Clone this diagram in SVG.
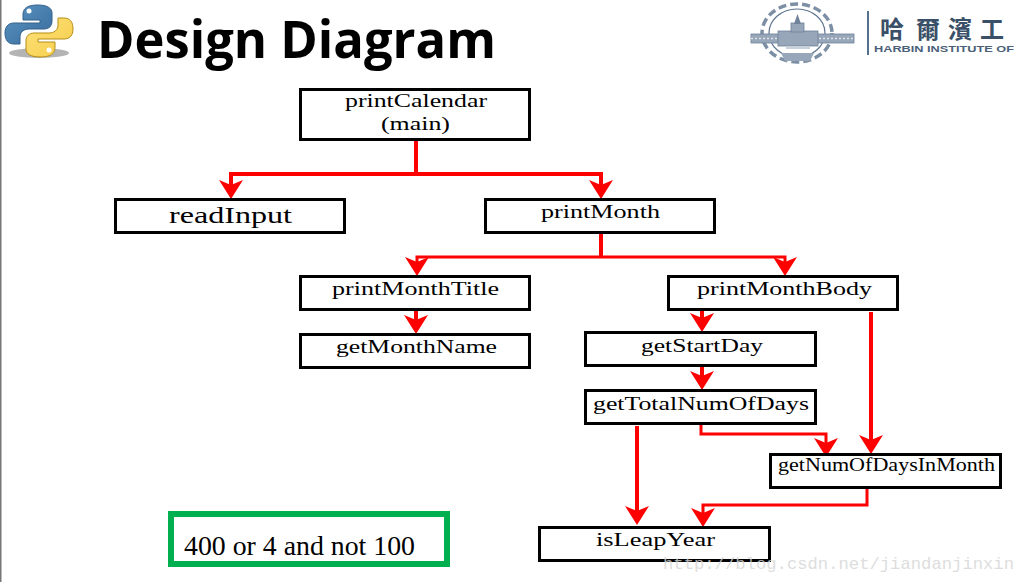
<svg xmlns="http://www.w3.org/2000/svg" width="1014" height="582" viewBox="0 0 1014 582">
<style>
.box{fill:#fff;stroke:#000;stroke-width:3}
.lbl{font-family:"Liberation Serif",serif;font-size:19px;fill:#000;text-anchor:start}
.c4{fill:none;stroke:#f00;stroke-width:4;marker-end:url(#ah)}
.c3{fill:none;stroke:#f00;stroke-width:3;marker-end:url(#ah)}
.p4{fill:none;stroke:#f00;stroke-width:4}
.p3{fill:none;stroke:#f00;stroke-width:3}
.blogo{fill:#97a6b8;stroke:#6f8299;stroke-width:.8}
</style>
<defs>
<marker id="ah" markerUnits="userSpaceOnUse" markerWidth="24" markerHeight="26" viewBox="0 -13 20 26" refX="9" refY="0" orient="auto" overflow="visible">
<polygon points="0,-12 19,0 0,12 5,0" fill="#f00"/>
</marker>
<linearGradient id="pb" x1="0" y1="0" x2="1" y2="1"><stop offset="0" stop-color="#5a95c4"/><stop offset="1" stop-color="#376a9a"/></linearGradient>
<linearGradient id="py" x1="0" y1="0" x2="1" y2="1"><stop offset="0" stop-color="#fde27a"/><stop offset="1" stop-color="#f6cc4a"/></linearGradient>
</defs>
<rect width="1014" height="582" fill="#fff"/>
<rect x="0" y="0" width="1.5" height="582" fill="#777"/>

<g id="python-logo">
<ellipse cx="39" cy="53" rx="30" ry="5" fill="#b4b4b4"/>
<path d="M38,5C25,5 23,10 23,15V20H40V23H14C8,23 5,27 5,33C5,40 8,44 14,44H20V37C20,32 24,29 29,29H44C49,29 52,26 52,21V13C52,8 47,5 38,5Z" fill="url(#pb)" stroke="#34608a"/>
<path d="M40,57C53,57 55,52 55,47V42H38V39H64C70,39 73,35 73,29C73,22 70,18 64,18H58V25C58,30 54,33 49,33H34C29,33 26,36 26,41V49C26,54 31,57 40,57Z" fill="url(#py)" stroke="#b58d14"/>
<circle cx="29" cy="11" r="2.5" fill="#fff"/>
<circle cx="49" cy="50" r="2.5" fill="#fff"/>
</g>
<text id="title" x="97" y="58" font-family="'Open Sans','Noto Sans',sans-serif" font-weight="700" font-size="52" textLength="399" lengthAdjust="spacingAndGlyphs" fill="#000">Design Diagram</text>

<g id="hit-logo">
<ellipse cx="797" cy="33" rx="35" ry="29" fill="none" stroke="#7d8fa5" stroke-width="3.5" stroke-dasharray="8 4"/>
<ellipse cx="797" cy="33" rx="28" ry="24" fill="#fff" stroke="#5f7590" stroke-width="1.2"/>
<rect x="751" y="34" width="103" height="9" class="blogo"/>
<path d="M751,38.500H854" stroke="#dfe4ea" stroke-width="1.500" stroke-dasharray="2 2"/>
<rect x="778" y="31" width="40" height="15" class="blogo"/>
<rect x="791" y="23" width="13" height="9" class="blogo"/>
<path d="M797.500,14L801,24H794Z" fill="#6f8299"/>
<rect x="786" y="46" width="24" height="3" fill="#c9d1db"/>
<path d="M781,53H814L810,61H785Z" fill="#97a6b8"/>
<rect x="867" y="11" width="2" height="44" fill="#54708c"/>
<text font-family="'Noto Sans CJK TC','Noto Sans CJK SC',sans-serif" font-weight="700" font-size="24" x="880 916 948 980" y="38" fill="#3a5068">哈爾濱工</text>
<text x="874" y="52" font-family="'Liberation Sans',sans-serif" font-weight="700" font-size="9.500" textLength="140" lengthAdjust="spacingAndGlyphs" fill="#4a6078">HARBIN INSTITUTE OF</text>
</g>

<g id="connectors">
<path class="p4" d="M416,140V174"/>
<polyline class="c4" points="416,174 231,174 231,189"/>
<polyline class="c4" points="416,174 601,174 601,189"/>
<path class="p4" d="M601,232V258"/>
<polyline class="c3" points="601,257 417,257 417,266"/>
<polyline class="c3" points="601,257 785,257 785,266"/>
<polyline class="c4" points="416,309 416,324"/>
<polyline class="c4" points="702,309 702,322"/>
<polyline class="c4" points="702,365 702,380"/>
<polyline class="c4" points="871,312 871,444"/>
<polyline class="c3" points="701,424 701,434 826,434 826,447"/>
<polyline class="c4" points="637,426 637,515"/>
<polyline class="c3" points="867,488 867,505 703,505 703,517"/>
</g>

<g id="printCalendar"><rect class="box" x="300.500" y="89.500" width="229" height="50"/>
<text class="lbl" x="345" y="107" textLength="142" lengthAdjust="spacingAndGlyphs">printCalendar</text>
<text class="lbl" x="381" y="130" textLength="69" lengthAdjust="spacingAndGlyphs">(main)</text></g>
<g id="readInput"><rect class="box" x="115.500" y="199.500" width="229" height="33"/>
<text class="lbl" x="169" y="223" style="font-size:24px" textLength="123" lengthAdjust="spacingAndGlyphs">readInput</text></g>
<g id="printMonth"><rect class="box" x="485.500" y="199.500" width="229" height="33"/>
<text class="lbl" x="541" y="218" textLength="119" lengthAdjust="spacingAndGlyphs">printMonth</text></g>
<g id="printMonthTitle"><rect class="box" x="300.500" y="276.500" width="229" height="33"/>
<text class="lbl" x="332" y="295" textLength="167" lengthAdjust="spacingAndGlyphs">printMonthTitle</text></g>
<g id="getMonthName"><rect class="box" x="300.500" y="334.500" width="229" height="33"/>
<text class="lbl" x="336" y="353" textLength="161" lengthAdjust="spacingAndGlyphs">getMonthName</text></g>
<g id="printMonthBody"><rect class="box" x="668.500" y="276.500" width="229" height="33"/>
<text class="lbl" x="697" y="295" textLength="175" lengthAdjust="spacingAndGlyphs">printMonthBody</text></g>
<g id="getStartDay"><rect class="box" x="585.500" y="332.500" width="230" height="33"/>
<text class="lbl" x="641" y="352" textLength="122" lengthAdjust="spacingAndGlyphs">getStartDay</text></g>
<g id="getTotalNumOfDays"><rect class="box" x="585.500" y="390.500" width="230" height="33"/>
<text class="lbl" x="593" y="410" textLength="216" lengthAdjust="spacingAndGlyphs">getTotalNumOfDays</text></g>
<g id="getNumOfDaysInMonth"><rect class="box" x="770.500" y="454.500" width="230" height="33"/>
<text class="lbl" x="778" y="471" textLength="217" lengthAdjust="spacingAndGlyphs">getNumOfDaysInMonth</text></g>
<g id="isLeapYear"><rect class="box" x="539.500" y="527.500" width="230" height="33"/>
<text class="lbl" x="596" y="546" textLength="119" lengthAdjust="spacingAndGlyphs">isLeapYear</text></g>
<g id="note"><rect x="171" y="514" width="276" height="50" fill="#fff" stroke="#00b050" stroke-width="6"/>
<text x="184" y="555" font-family="'Liberation Serif',serif" font-size="28" textLength="231" lengthAdjust="spacingAndGlyphs" fill="#000">400 or 4 and not 100</text></g>
<text id="watermark" x="663" y="569" font-family="'Liberation Mono',monospace" font-size="17" textLength="351" lengthAdjust="spacingAndGlyphs" fill="#d6d6d6" opacity="0.8">http://blog.csdn.net/jiandanjinxin</text>
</svg>
